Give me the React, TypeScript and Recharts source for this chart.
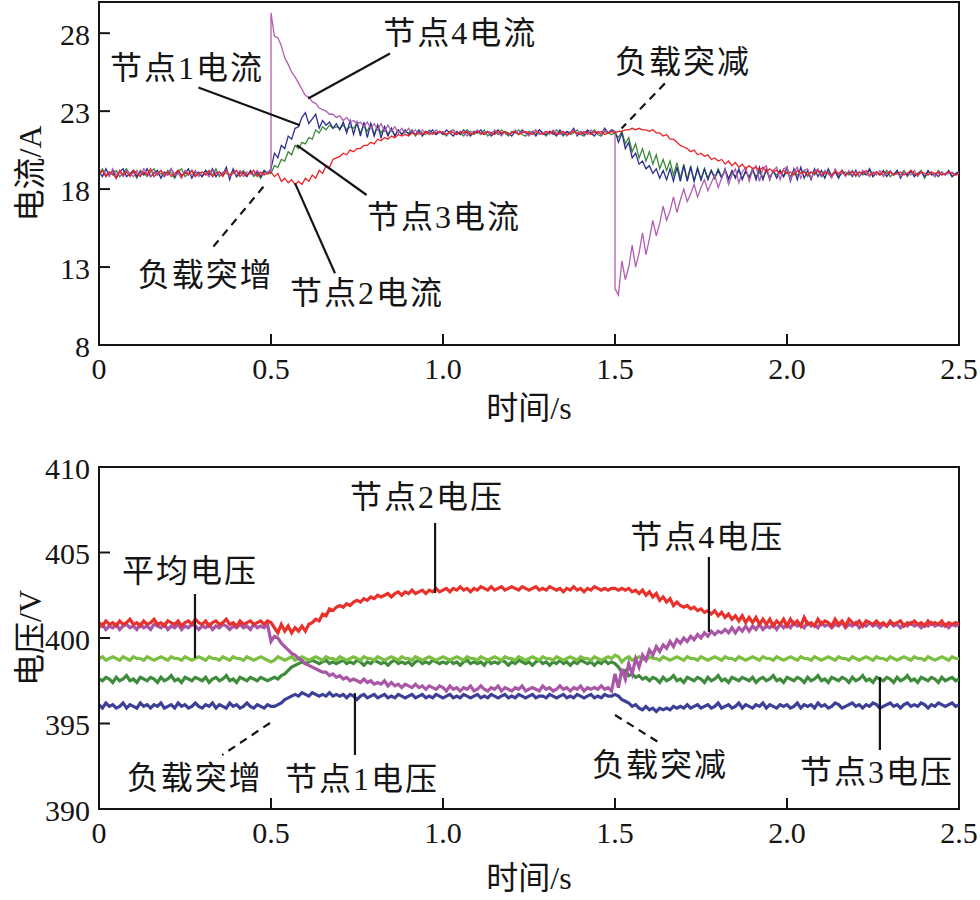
import React from 'react';
import { LineChart, Line, XAxis, YAxis, ReferenceLine, ReferenceDot, ReferenceArea } from 'recharts';

// ---------- time grid ----------
const T_STEP = 0.01;
const POINTS = 251;
const times = Array.from({ length: POINTS }, (_, i) => Math.round(i * T_STEP * 100) / 100);

const xTicks = [0, 0.5, 1, 1.5, 2, 2.5];
const xTickLabels = ['0', '0.5', '1.0', '1.5', '2.0', '2.5'];
const currentTicks = [8, 13, 18, 23, 28];
const voltageTicks = [390, 395, 400, 405, 410];

// ---------- top panel: node currents (A) ----------
const node1Current = [
  19.1, 18.8, 19.3, 18.9, 19.2, 18.7, 19.1, 19.3, 18.8, 19.0,
  19.2, 18.8, 19.1, 18.9, 19.3, 18.8, 19.0, 19.2, 18.7, 19.1,
  18.9, 19.3, 18.8, 19.2, 18.9, 19.0, 19.3, 18.7, 19.1, 19.0,
  18.8, 19.2, 18.9, 19.3, 18.8, 19.1, 18.9, 19.4, 18.6, 19.3,
  18.8, 19.1, 19.0, 18.8, 19.2, 18.9, 19.1, 18.8, 19.2, 19.0,
  19.3, 20.3, 20.0, 20.8, 20.6, 21.4, 21.2, 21.9, 22.0, 22.6,
  22.9, 22.2, 22.5, 22.8, 21.9, 22.4, 22.1, 22.3, 21.9, 22.2,
  21.8, 22.3, 21.6, 22.4, 21.5, 22.3, 21.4, 22.3, 21.3, 22.2,
  21.4, 22.1, 21.3, 22.0, 21.4, 21.9, 21.4, 21.8, 21.5, 21.8,
  21.5, 21.7, 21.5, 21.8, 21.4, 21.7, 21.6, 21.8, 21.5, 21.7,
  21.5, 21.8, 21.6, 21.4, 21.7, 21.5, 21.8, 21.6, 21.4, 21.7,
  21.6, 21.8, 21.5, 21.7, 21.4, 21.6, 21.8, 21.5, 21.7, 21.6,
  21.4, 21.7, 21.5, 21.8, 21.6, 21.5, 21.7, 21.4, 21.8, 21.6,
  21.5, 21.7, 21.6, 21.4, 21.8, 21.5, 21.7, 21.6, 21.9, 21.4,
  21.7, 21.5, 21.8, 21.6, 21.4, 21.7, 21.5, 21.9, 21.6, 21.8,
  21.7, 21.0, 21.6, 20.6, 21.0, 20.0, 20.3, 19.6, 19.8, 19.3,
  19.5, 19.0, 19.3, 18.7, 19.2, 18.6, 19.3, 18.5, 19.4, 18.5,
  19.5, 18.5, 19.4, 18.5, 19.3, 18.6, 19.3, 18.6, 19.2, 18.7,
  19.2, 18.7, 19.3, 18.6, 19.2, 18.7, 19.3, 18.6, 19.2, 18.7,
  19.3, 18.6, 19.4, 18.6, 19.3, 18.6, 19.2, 18.7, 19.2, 18.8,
  19.4, 18.5, 19.3, 18.6, 19.4, 18.7, 19.2, 18.6, 19.3, 18.8,
  19.2, 18.7, 19.3, 18.8, 19.1, 18.7, 19.2, 18.9, 19.1, 18.8,
  19.2, 18.8, 19.1, 18.9, 19.3, 18.8, 19.1, 18.9, 19.2, 18.8,
  19.1, 18.9, 19.2, 18.7, 19.1, 18.9, 19.2, 18.8, 19.0, 19.1,
  18.8, 19.2, 18.9, 19.0, 18.8, 19.1, 18.9, 19.2, 18.8, 19.0,
  19.1,
];

const node2Current = [
  18.9, 19.2, 18.8, 19.1, 19.0, 18.7, 19.2, 18.9, 19.1, 18.8,
  19.2, 19.0, 18.8, 19.1, 18.9, 19.3, 18.8, 19.0, 19.2, 18.9,
  19.1, 18.8, 19.0, 19.2, 18.8, 19.1, 18.9, 19.2, 18.8, 19.0,
  19.1, 18.9, 19.2, 18.8, 19.0, 19.1, 18.8, 19.2, 18.9, 19.0,
  19.2, 18.8, 19.1, 18.9, 19.0, 19.2, 18.8, 19.1, 18.9, 19.0,
  19.1, 18.8, 19.0, 18.5, 18.7, 18.4, 18.6, 18.3, 18.5, 18.3,
  18.7, 18.5, 18.9, 18.7, 19.2, 19.0, 19.5, 19.4, 19.9, 20.0,
  20.1, 20.3, 20.2, 20.5, 20.4, 20.6, 20.6, 20.8, 20.8, 21.0,
  20.9, 21.2, 21.1, 21.3, 21.2, 21.4, 21.3, 21.5, 21.4, 21.5,
  21.4, 21.6, 21.5, 21.6, 21.5, 21.7, 21.5, 21.6, 21.6, 21.7,
  21.6, 21.5, 21.7, 21.6, 21.5, 21.7, 21.6, 21.7, 21.5, 21.6,
  21.7, 21.6, 21.5, 21.7, 21.6, 21.5, 21.7, 21.6, 21.7, 21.5,
  21.6, 21.7, 21.5, 21.6, 21.7, 21.6, 21.5, 21.7, 21.6, 21.5,
  21.7, 21.6, 21.7, 21.5, 21.6, 21.7, 21.5, 21.6, 21.7, 21.6,
  21.5, 21.7, 21.6, 21.5, 21.7, 21.6, 21.7, 21.5, 21.6, 21.7,
  21.6, 21.7, 21.7, 21.8, 21.8, 21.9, 21.8, 21.9, 21.8, 21.8,
  21.7, 21.8, 21.6, 21.6, 21.4, 21.5, 21.2, 21.2, 21.0, 20.8,
  20.7, 20.6, 20.4, 20.5, 20.2, 20.3, 20.1, 20.2, 19.9, 20.0,
  19.8, 19.9, 19.6, 19.8, 19.5, 19.7, 19.4, 19.6, 19.3, 19.5,
  19.3, 19.4, 19.2, 19.4, 19.1, 19.3, 19.1, 19.2, 19.0, 19.2,
  19.0, 19.1, 18.9, 19.2, 19.0, 19.1, 18.9, 19.1, 19.0, 19.2,
  18.9, 19.1, 19.0, 18.9, 19.1, 19.0, 19.2, 18.9, 19.0, 19.1,
  18.9, 19.1, 19.0, 19.2, 18.9, 19.0, 19.1, 18.9, 19.1, 19.0,
  19.1, 18.9, 19.0, 19.1, 18.9, 19.0, 19.2, 19.0, 18.9, 19.1,
  19.0, 18.9, 19.1, 19.0, 19.1, 18.9, 19.0, 19.1, 19.0, 18.9,
  19.0,
];

const node3Current = [
  19.0, 19.3, 18.8, 19.1, 18.9, 19.2, 18.8, 19.0, 19.3, 18.9,
  19.1, 18.7, 19.2, 19.0, 18.8, 19.1, 19.3, 18.9, 19.0, 18.8,
  19.2, 19.0, 18.7, 19.1, 19.3, 18.8, 19.0, 19.2, 18.9, 19.1,
  18.8, 19.2, 19.0, 18.9, 19.3, 18.8, 19.1, 19.0, 18.9, 19.2,
  18.8, 19.0, 19.2, 18.9, 19.1, 18.8, 19.0, 18.7, 19.1, 19.0,
  19.0, 19.5, 19.4, 19.9, 19.8, 20.4, 20.2, 20.8, 20.6, 21.0,
  20.9, 21.3, 21.2, 21.8, 21.6, 22.0, 21.8, 22.1, 21.9, 22.0,
  21.9, 22.1, 21.8, 22.0, 21.9, 22.2, 21.6, 22.1, 21.7, 22.2,
  21.5, 22.1, 21.6, 22.0, 21.5, 21.9, 21.4, 21.8, 21.5, 21.7,
  21.6, 21.8, 21.4, 21.7, 21.6, 21.5, 21.8, 21.6, 21.5, 21.7,
  21.6, 21.4, 21.7, 21.8, 21.5, 21.6, 21.4, 21.8, 21.6, 21.5,
  21.7, 21.5, 21.8, 21.4, 21.6, 21.7, 21.5, 21.8, 21.6, 21.4,
  21.7, 21.6, 21.8, 21.5, 21.4, 21.7, 21.6, 21.5, 21.8, 21.6,
  21.4, 21.7, 21.5, 21.8, 21.6, 21.4, 21.7, 21.5, 21.6, 21.8,
  21.5, 21.4, 21.7, 21.6, 21.8, 21.5, 21.4, 21.7, 21.6, 21.5,
  21.6, 21.3, 21.7, 20.9, 21.3, 20.4, 20.9, 20.0, 20.6, 19.8,
  20.4, 19.6, 20.2, 19.3, 19.9, 19.2, 19.8, 18.9, 19.7, 18.7,
  19.6, 18.6, 19.5, 18.5, 19.4, 18.6, 19.3, 18.7, 19.2, 18.7,
  19.3, 18.8, 19.2, 18.7, 19.1, 18.8, 19.2, 18.7, 19.1, 18.8,
  19.2, 18.8, 19.1, 18.7, 19.2, 18.8, 19.1, 18.9, 19.2, 18.8,
  19.1, 18.8, 19.2, 18.9, 19.0, 19.2, 18.8, 19.1, 18.9, 19.2,
  18.8, 19.0, 19.1, 18.9, 19.2, 18.8, 19.0, 19.1, 18.9, 19.2,
  18.8, 19.1, 18.9, 19.0, 19.2, 18.8, 19.1, 19.0, 18.9, 19.2,
  18.8, 19.0, 19.1, 18.9, 19.2, 18.8, 19.1, 18.9, 19.0, 19.2,
  18.7, 19.1, 19.0, 18.8, 19.2, 18.9, 19.0, 19.1, 18.8, 19.0,
  19.1,
];

const node4Current = [
  18.9, 19.2, 19.0, 18.8, 19.3, 18.9, 19.1, 18.8, 19.2, 19.0,
  18.8, 19.2, 18.9, 19.3, 19.0, 18.8, 19.1, 18.9, 19.2, 18.8,
  19.0, 19.3, 18.9, 19.0, 18.7, 19.2, 19.0, 18.9, 19.2, 18.8,
  19.1, 19.0, 18.8, 19.2, 19.1, 18.9, 19.0, 19.2, 18.8, 19.1,
  18.9, 19.2, 18.8, 19.1, 19.0, 18.9, 19.2, 18.9, 19.0, 19.1,
  29.3, 27.8, 27.7, 27.2, 26.4, 26.0, 25.5, 25.2, 24.8, 24.4,
  24.0, 23.9, 23.6, 23.5, 23.2, 23.1, 23.0, 22.8, 22.8, 22.6,
  22.7, 22.4, 22.6, 22.3, 22.4, 22.2, 22.3, 22.0, 22.3, 21.9,
  22.2, 21.8, 22.2, 21.7, 22.1, 21.7, 22.0, 21.6, 21.9, 21.6,
  21.9, 21.6, 21.8, 21.5, 21.8, 21.6, 21.7, 21.5, 21.8, 21.6,
  21.7, 21.5, 21.6, 21.8, 21.5, 21.7, 21.6, 21.4, 21.7, 21.6,
  21.8, 21.5, 21.6, 21.7, 21.5, 21.8, 21.6, 21.4, 21.7, 21.5,
  21.6, 21.8, 21.5, 21.7, 21.6, 21.4, 21.7, 21.8, 21.5, 21.6,
  21.7, 21.5, 21.8, 21.6, 21.5, 21.7, 21.4, 21.6, 21.8, 21.5,
  21.7, 21.6, 21.5, 21.8, 21.6, 21.7, 21.5, 21.8, 21.6, 21.7,
  11.6, 11.2, 13.4, 12.2, 13.0, 14.4, 13.0, 13.9, 15.2, 13.8,
  14.8, 16.0, 15.0, 15.8, 16.9, 16.0, 16.6, 17.5, 16.5, 17.3,
  18.0, 17.2, 17.7, 18.3, 17.5, 18.1, 18.6, 17.9, 18.4, 18.9,
  18.1, 18.7, 19.2, 18.3, 18.9, 19.3, 18.4, 19.1, 19.4, 18.5,
  19.2, 19.5, 18.5, 19.3, 19.5, 18.6, 19.2, 19.4, 18.6, 19.3,
  19.4, 18.6, 19.1, 19.4, 18.7, 19.2, 19.3, 18.7, 19.1, 19.3,
  18.8, 19.2, 19.0, 18.7, 19.3, 18.9, 19.1, 18.8, 19.2, 18.9,
  19.1, 18.8, 19.2, 19.0, 18.8, 19.1, 18.9, 19.2, 18.8, 19.0,
  19.2, 18.9, 19.0, 18.8, 19.1, 19.0, 18.9, 19.2, 18.8, 19.1,
  19.0, 18.9, 19.1, 18.8, 19.0, 19.1, 18.9, 19.0, 19.1, 18.9,
  19.0,
];

// node 4 current jumps vertically at the load steps: value just before the jump
const node4Jumps = [
  { t: 0.5, from: 19.1 },
  { t: 1.5, from: 21.7 },
];

// ---------- bottom panel: node voltages (V) ----------
const node1Voltage = [
  396.1, 395.9, 396.2, 396.0, 396.1, 395.9, 396.0, 396.2, 395.9, 396.1,
  396.0, 395.9, 396.2, 396.0, 396.1, 395.9, 396.1, 396.0, 396.2, 395.9,
  396.0, 396.1, 395.9, 396.2, 396.0, 396.1, 395.9, 396.0, 396.2, 396.0,
  395.9, 396.1, 396.0, 396.2, 395.9, 396.1, 396.0, 395.9, 396.2, 396.0,
  396.1, 395.9, 396.0, 396.2, 396.0, 395.9, 396.1, 396.0, 395.9, 396.1,
  396.0, 396.0, 396.1, 396.2, 396.4, 396.5, 396.6, 396.7, 396.6, 396.8,
  396.7, 396.6, 396.8, 396.7, 396.6, 396.7, 396.6, 396.8, 396.6, 396.7,
  396.6, 396.7, 396.5, 396.7, 396.6, 396.4, 396.6, 396.7, 396.5, 396.6,
  396.7, 396.5, 396.6, 396.7, 396.5, 396.6, 396.5, 396.7, 396.6, 396.5,
  396.6, 396.7, 396.5, 396.6, 396.7, 396.5, 396.6, 396.5, 396.7, 396.6,
  396.5, 396.6, 396.7, 396.5, 396.6, 396.5, 396.7, 396.6, 396.5, 396.6,
  396.7, 396.5, 396.6, 396.5, 396.7, 396.6, 396.5, 396.6, 396.7, 396.5,
  396.6, 396.5, 396.7, 396.6, 396.5, 396.6, 396.7, 396.5, 396.6, 396.6,
  396.5, 396.7, 396.6, 396.5, 396.6, 396.7, 396.5, 396.6, 396.5, 396.7,
  396.6, 396.5, 396.6, 396.7, 396.5, 396.6, 396.5, 396.7, 396.6, 396.6,
  396.7, 396.6, 396.4, 396.3, 396.2, 396.0, 396.1, 395.9, 395.8, 396.0,
  395.8, 395.9, 395.7, 395.9, 395.8, 395.9, 395.8, 396.0, 395.9, 396.0,
  395.9, 396.1, 395.9, 396.0, 396.1, 395.9, 396.0, 396.1, 395.9, 396.0,
  396.2, 395.9, 396.0, 396.1, 395.9, 396.0, 396.2, 395.9, 396.1, 396.0,
  395.9, 396.1, 396.0, 396.2, 395.9, 396.1, 396.0, 395.9, 396.1, 396.0,
  396.1, 395.9, 396.0, 396.2, 395.9, 396.1, 396.0, 396.1, 395.9, 396.2,
  396.0, 396.1, 395.9, 396.0, 396.2, 396.1, 395.9, 396.0, 396.1, 396.2,
  396.0, 396.1, 395.9, 396.1, 396.0, 396.2, 396.1, 395.9, 396.0, 396.1,
  396.2, 396.0, 396.1, 395.9, 396.1, 396.2, 396.0, 396.1, 396.0, 396.2,
  396.1, 395.9, 396.1, 396.0, 396.2, 396.1, 396.0, 396.1, 396.2, 396.0,
  396.1,
];

const node2Voltage = [
  400.9, 400.7, 401.0, 400.8, 400.9, 400.7, 401.0, 400.8, 400.9, 401.1,
  400.8, 400.9, 400.7, 401.0, 400.8, 400.9, 401.1, 400.8, 400.9, 400.7,
  401.0, 400.9, 400.8, 401.0, 400.7, 400.9, 401.0, 400.8, 401.1, 400.9,
  400.8, 401.0, 400.7, 400.9, 401.0, 400.8, 400.9, 401.1, 400.8, 400.9,
  400.7, 401.0, 400.8, 400.9, 401.0, 400.8, 400.9, 401.0, 400.8, 401.0,
  400.9, 400.6, 400.3, 400.8, 400.4, 400.7, 400.3, 400.6, 400.4, 400.7,
  400.4, 400.8, 400.9, 401.1, 401.0, 401.4, 401.3, 401.7, 401.6, 401.8,
  401.9, 401.8, 402.0, 401.9, 402.1, 402.2, 402.1, 402.3, 402.2, 402.4,
  402.3, 402.5, 402.4, 402.5, 402.6, 402.4, 402.6, 402.7, 402.5, 402.7,
  402.6, 402.8, 402.6, 402.7, 402.8, 402.6, 402.8, 402.7, 402.9, 402.7,
  402.8, 402.9, 402.7, 402.9, 402.8, 403.0, 402.8, 402.9, 402.7, 402.9,
  402.8, 403.0, 402.9, 402.8, 403.0, 402.8, 402.9, 403.0, 402.8, 402.9,
  403.0, 402.9, 402.8, 403.0, 402.9, 402.8, 402.9, 403.0, 402.8, 402.9,
  402.8, 403.0, 402.9, 402.8, 402.9, 402.7, 402.9, 402.8, 403.0, 402.8,
  402.9, 402.7, 402.9, 402.8, 403.0, 402.9, 402.8, 402.9, 402.8, 402.9,
  402.9, 402.8, 402.9, 402.8, 402.9, 402.7, 402.8, 402.6, 402.8, 402.5,
  402.7, 402.4, 402.6, 402.2, 402.4, 402.1, 402.3, 401.9, 402.1, 401.9,
  401.8, 401.9, 401.7, 401.8, 401.6, 401.7, 401.5, 401.6, 401.4, 401.6,
  401.3, 401.5, 401.2, 401.4, 401.1, 401.3, 401.0, 401.3, 400.9, 401.2,
  400.9, 401.2, 400.8, 401.1, 400.8, 401.1, 400.7, 401.0, 400.8, 401.1,
  400.7, 401.1, 400.8, 401.0, 400.7, 401.2, 400.8, 400.9, 400.7, 401.1,
  400.8, 401.0, 400.9, 400.7, 401.1, 400.8, 401.0, 400.7, 401.1, 400.9,
  400.8, 401.0, 400.7, 401.0, 400.9, 400.8, 401.0, 400.8, 400.9, 400.7,
  401.0, 400.8, 400.9, 401.0, 400.7, 400.9, 400.8, 401.0, 400.8, 400.9,
  400.7, 401.0, 400.8, 400.9, 400.8, 401.0, 400.7, 400.9, 400.8, 400.9,
  400.8,
];

const node3Voltage = [
  397.6, 397.5, 397.7, 397.6, 397.4, 397.7, 397.5, 397.6, 397.8, 397.5,
  397.6, 397.4, 397.7, 397.6, 397.5, 397.7, 397.6, 397.4, 397.7, 397.5,
  397.6, 397.8, 397.5, 397.6, 397.4, 397.7, 397.6, 397.5, 397.7, 397.6,
  397.5, 397.7, 397.4, 397.6, 397.7, 397.5, 397.6, 397.8, 397.5, 397.6,
  397.4, 397.7, 397.6, 397.5, 397.7, 397.6, 397.5, 397.7, 397.6, 397.5,
  397.6, 397.7, 397.6, 397.8, 397.9, 398.1, 398.3, 398.4, 398.5, 398.6,
  398.5, 398.6, 398.7, 398.6, 398.5, 398.6, 398.7, 398.5, 398.6, 398.5,
  398.6, 398.7, 398.5, 398.6, 398.5, 398.7, 398.6, 398.4, 398.6, 398.5,
  398.7, 398.6, 398.5, 398.6, 398.4, 398.6, 398.7, 398.5, 398.6, 398.5,
  398.6, 398.4, 398.6, 398.7, 398.5, 398.6, 398.5, 398.7, 398.6, 398.5,
  398.6, 398.5, 398.7, 398.5, 398.6, 398.4, 398.6, 398.7, 398.5, 398.6,
  398.5, 398.6, 398.4, 398.7, 398.5, 398.6, 398.5, 398.7, 398.6, 398.4,
  398.6, 398.5, 398.7, 398.6, 398.5, 398.6, 398.4, 398.6, 398.7, 398.5,
  398.6, 398.4, 398.6, 398.5, 398.7, 398.5, 398.6, 398.4, 398.6, 398.5,
  398.7, 398.6, 398.5, 398.6, 398.4, 398.6, 398.5, 398.7, 398.5, 398.6,
  398.5, 398.3, 398.0, 398.1, 397.8, 397.9, 397.7, 397.8, 397.6, 397.7,
  397.5, 397.7, 397.6, 397.4, 397.7, 397.5, 397.6, 397.8, 397.5, 397.6,
  397.4, 397.7, 397.6, 397.5, 397.7, 397.6, 397.4, 397.7, 397.5, 397.6,
  397.8, 397.5, 397.6, 397.4, 397.7, 397.6, 397.5, 397.7, 397.6, 397.5,
  397.7, 397.4, 397.6, 397.7, 397.5, 397.6, 397.8, 397.5, 397.6, 397.4,
  397.7, 397.6, 397.5, 397.7, 397.6, 397.4, 397.7, 397.5, 397.6, 397.8,
  397.5, 397.6, 397.4, 397.7, 397.6, 397.5, 397.7, 397.6, 397.4, 397.7,
  397.5, 397.6, 397.8, 397.5, 397.6, 397.4, 397.7, 397.6, 397.5, 397.7,
  397.6, 397.4, 397.7, 397.5, 397.6, 397.8, 397.5, 397.6, 397.4, 397.7,
  397.6, 397.5, 397.7, 397.6, 397.4, 397.7, 397.5, 397.6, 397.7, 397.5,
  397.6,
];

const node4Voltage = [
  400.6, 400.8, 400.5, 400.7, 400.6, 400.8, 400.5, 400.7, 400.8, 400.6,
  400.7, 400.5, 400.8, 400.6, 400.7, 400.5, 400.8, 400.7, 400.6, 400.8,
  400.5, 400.7, 400.6, 400.8, 400.5, 400.7, 400.6, 400.8, 400.7, 400.5,
  400.7, 400.6, 400.8, 400.5, 400.7, 400.6, 400.8, 400.7, 400.5, 400.7,
  400.6, 400.8, 400.6, 400.7, 400.5, 400.8, 400.6, 400.7, 400.6, 400.8,
  399.8, 400.1, 400.0, 399.7, 399.5, 399.3, 399.1, 399.0, 398.8, 398.7,
  398.5, 398.4, 398.3, 398.2, 398.1, 398.0, 398.0, 397.8, 397.9, 397.7,
  397.8, 397.6, 397.7, 397.5, 397.6, 397.5, 397.4, 397.6, 397.4, 397.5,
  397.3, 397.4, 397.3, 397.5, 397.2, 397.4, 397.2, 397.3, 397.1, 397.3,
  397.2, 397.1, 397.3, 397.1, 397.2, 397.0, 397.2, 397.1, 397.0, 397.2,
  397.1, 396.9, 397.2, 397.0, 397.1, 396.9, 397.1, 397.0, 397.2, 396.9,
  397.0, 397.2, 397.0, 396.9, 397.1, 397.0, 397.2, 396.9, 397.1, 397.0,
  396.9, 397.1, 397.0, 397.2, 396.9, 397.0, 397.1, 397.0, 396.9, 397.2,
  397.0, 397.1, 396.9, 397.0, 397.2, 397.0, 397.1, 396.9, 397.1, 397.0,
  397.2, 396.9, 397.1, 397.0, 397.1, 397.0, 397.2, 397.0, 397.1, 396.9,
  397.9, 397.1, 398.2, 397.6, 398.5, 397.9, 398.8, 398.3, 399.0, 398.7,
  399.3, 399.0, 399.5, 399.2, 399.6, 399.4, 399.8, 399.5, 399.9, 399.7,
  400.0, 399.8, 400.1, 399.9, 400.2, 400.0, 400.3, 400.1, 400.4, 400.2,
  400.4, 400.3, 400.5, 400.3, 400.6, 400.3, 400.6, 400.4, 400.7, 400.4,
  400.7, 400.5, 400.8, 400.5, 400.7, 400.6, 400.8, 400.5, 400.8, 400.6,
  400.8, 400.6, 400.9, 400.7, 400.8, 400.6, 400.9, 400.7, 400.8, 400.6,
  400.9, 400.7, 400.8, 400.6, 400.8, 400.7, 400.9, 400.6, 400.8, 400.7,
  400.9, 400.6, 400.8, 400.7, 400.9, 400.7, 400.8, 400.6, 400.8, 400.7,
  400.9, 400.7, 400.8, 400.6, 400.8, 400.7, 400.9, 400.7, 400.8, 400.6,
  400.8, 400.7, 400.9, 400.7, 400.8, 400.7, 400.8, 400.6, 400.8, 400.7,
  400.8,
];

const averageVoltage = [
  398.8, 398.9, 398.7, 398.8, 398.9, 398.8, 398.7, 398.9, 398.8, 398.7,
  398.9, 398.8, 398.8, 398.7, 398.9, 398.8, 398.7, 398.8, 398.9, 398.8,
  398.7, 398.9, 398.8, 398.8, 398.7, 398.9, 398.8, 398.7, 398.8, 398.9,
  398.8, 398.7, 398.9, 398.8, 398.8, 398.7, 398.9, 398.8, 398.7, 398.9,
  398.8, 398.8, 398.7, 398.9, 398.8, 398.7, 398.8, 398.9, 398.8, 398.7,
  398.6, 398.7, 398.9, 398.8, 398.7, 398.8, 398.9, 398.7, 398.8, 398.9,
  398.8, 398.7, 398.8, 398.9, 398.8, 398.7, 398.9, 398.8, 398.8, 398.7,
  398.9, 398.8, 398.7, 398.8, 398.9, 398.8, 398.7, 398.9, 398.8, 398.8,
  398.7, 398.9, 398.8, 398.7, 398.8, 398.9, 398.8, 398.7, 398.9, 398.8,
  398.8, 398.7, 398.9, 398.8, 398.7, 398.8, 398.9, 398.8, 398.7, 398.8,
  398.9, 398.8, 398.7, 398.8, 398.9, 398.8, 398.7, 398.9, 398.8, 398.8,
  398.7, 398.9, 398.8, 398.7, 398.8, 398.9, 398.8, 398.7, 398.9, 398.8,
  398.8, 398.7, 398.9, 398.8, 398.7, 398.8, 398.9, 398.8, 398.7, 398.9,
  398.8, 398.8, 398.7, 398.9, 398.8, 398.7, 398.8, 398.9, 398.8, 398.7,
  398.9, 398.8, 398.8, 398.7, 398.9, 398.8, 398.7, 398.8, 398.9, 398.8,
  399.0, 398.9, 398.6, 398.8, 398.9, 398.7, 398.8, 398.9, 398.8, 398.7,
  398.9, 398.8, 398.8, 398.7, 398.9, 398.8, 398.7, 398.8, 398.9, 398.8,
  398.7, 398.9, 398.8, 398.8, 398.7, 398.9, 398.8, 398.7, 398.8, 398.9,
  398.8, 398.7, 398.9, 398.8, 398.8, 398.7, 398.9, 398.8, 398.7, 398.8,
  398.9, 398.8, 398.7, 398.9, 398.8, 398.8, 398.7, 398.9, 398.8, 398.7,
  398.8, 398.9, 398.8, 398.7, 398.9, 398.8, 398.8, 398.7, 398.9, 398.8,
  398.7, 398.8, 398.9, 398.8, 398.7, 398.9, 398.8, 398.8, 398.7, 398.9,
  398.8, 398.7, 398.8, 398.9, 398.8, 398.7, 398.9, 398.8, 398.8, 398.7,
  398.9, 398.8, 398.7, 398.8, 398.9, 398.8, 398.7, 398.9, 398.8, 398.8,
  398.7, 398.9, 398.8, 398.7, 398.8, 398.9, 398.8, 398.7, 398.9, 398.8,
  398.8,
];

// ---------- annotations (data coordinates) ----------
const currentNotes = [
  { text: '节点4电流', t: 0.826, v: 28.0 },
  { text: '节点1电流', t: 0.032, v: 25.76 },
  { text: '节点3电流', t: 0.779, v: 16.2 },
  { text: '负载突增', t: 0.113, v: 12.49 },
  { text: '节点2电流', t: 0.555, v: 11.33 },
  { text: '负载突减', t: 1.5, v: 26.14 },
];
const currentLeaders = [
  { a: [0.608, 23.81], b: [0.846, 26.7], dashed: false },
  { a: [0.289, 24.52], b: [0.584, 22.1], dashed: false },
  { a: [0.575, 20.82], b: [0.778, 17.62], dashed: false },
  { a: [0.57, 18.37], b: [0.686, 12.6], dashed: false },
  { a: [0.478, 18.15], b: [0.332, 14.3], dashed: true },
  { a: [1.645, 24.78], b: [1.519, 21.89], dashed: true },
];
const voltageNotes = [
  { text: '节点2电压', t: 0.73, v: 408.25 },
  { text: '平均电压', t: 0.067, v: 403.92 },
  { text: '负载突增', t: 0.081, v: 391.81 },
  { text: '节点1电压', t: 0.541, v: 391.75 },
  { text: '节点4电压', t: 1.544, v: 405.91 },
  { text: '负载突减', t: 1.433, v: 392.57 },
  { text: '节点3电压', t: 2.038, v: 392.16 },
];
const voltageLeaders = [
  { a: [0.977, 406.73], b: [0.977, 402.63], dashed: false },
  { a: [0.279, 402.57], b: [0.279, 398.83], dashed: false },
  { a: [0.497, 395.03], b: [0.358, 393.16], dashed: true },
  { a: [0.744, 396.78], b: [0.744, 393.16], dashed: false },
  { a: [1.773, 404.74], b: [1.773, 400.35], dashed: false },
  { a: [1.5, 395.5], b: [1.625, 393.92], dashed: true },
  { a: [2.27, 397.72], b: [2.27, 393.45], dashed: false },
];

// ---------- build chart rows ----------
const currentRows: any[] = [];
times.forEach((t, i) => {
  const base = { t, i1: node1Current[i], i2: node2Current[i], i3: node3Current[i] };
  const jump = node4Jumps.find((j) => j.t === t);
  if (jump) currentRows.push({ ...base, i4: jump.from });
  currentRows.push({ ...base, i4: node4Current[i] });
});

const voltageRows = times.map((t, i) => ({
  t,
  v1: node1Voltage[i],
  v2: node2Voltage[i],
  v3: node3Voltage[i],
  v4: node4Voltage[i],
  va: averageVoltage[i],
}));

// ---------- styling ----------
const INK = '#151515';
const FONT_NUM = "'Liberation Serif', Tinos, 'Times New Roman', 'DejaVu Serif', serif";
const FONT_TXT = "'Liberation Serif', Tinos, 'Times New Roman', 'Noto Sans CJK SC', serif";
const numStyle: React.CSSProperties = { fontFamily: FONT_NUM, fontSize: 30 };
const txtStyle: React.CSSProperties = { fontFamily: FONT_TXT, fontSize: 32 };

const XTick = (props: any) => {
  const { x, y, payload } = props;
  const idx = xTicks.indexOf(payload.value);
  return (
    <g>
      <line x1={x} y1={y} x2={x} y2={y - 11} stroke={INK} strokeWidth={2} />
      <text x={x} y={y + 23} textAnchor="middle" dominantBaseline="central" style={numStyle} fill={INK}>
        {idx >= 0 ? xTickLabels[idx] : String(payload.value)}
      </text>
    </g>
  );
};

const YTick = (props: any) => {
  const { x, y, payload } = props;
  return (
    <g>
      <line x1={x} y1={y} x2={x + 11} y2={y} stroke={INK} strokeWidth={2} />
      <text x={x - 9} y={y + 1} textAnchor="end" dominantBaseline="central" style={numStyle} fill={INK}>
        {payload.value}
      </text>
    </g>
  );
};

const xTitle = (dy: number) => (props: any) => {
  const vb = props.viewBox || {};
  return (
    <text x={vb.x + vb.width / 2} y={vb.y + dy} textAnchor="middle" dominantBaseline="central" style={txtStyle} fill={INK}>
      时间/s
    </text>
  );
};

const yTitle = (text: string) => (props: any) => {
  const vb = props.viewBox || {};
  const cx = vb.x + 21;
  const cy = vb.y + vb.height / 2;
  return (
    <text x={cx} y={cy} transform={`rotate(-90 ${cx} ${cy})`} textAnchor="middle" dominantBaseline="central" style={txtStyle} fill={INK}>
      {text}
    </text>
  );
};

const noteShape = (text: string) => (p: any) => (
  <text x={p.cx} y={p.cy} textAnchor="start" dominantBaseline="central" style={{ ...txtStyle, letterSpacing: 2 }} fill={INK}>
    {text}
  </text>
);

const renderLeaders = (list: any[], prefix: string) =>
  list.map((l, k) => (
    <ReferenceLine
      key={`${prefix}-${k}`}
      segment={[{ x: l.a[0], y: l.a[1] }, { x: l.b[0], y: l.b[1] }]}
      stroke={INK}
      strokeWidth={2.2}
      strokeDasharray={l.dashed ? '8 6' : undefined}
    />
  ));

const renderNotes = (list: any[], prefix: string) =>
  list.map((n, k) => (
    <ReferenceDot key={`${prefix}-${k}`} x={n.t} y={n.v} r={0} shape={noteShape(n.text)} />
  ));

export default function App() {
  return (
    <div style={{ position: 'absolute', left: 0, top: 0, width: 980, height: 900, background: '#fff' }}>
      <div style={{ position: 'absolute', left: 0, top: 0 }}>
        <LineChart width={980} height={440} data={currentRows} margin={{ top: 2, right: 21, left: 9, bottom: 35 }}>
          <XAxis
            dataKey="t"
            type="number"
            domain={[0, 2.5]}
            ticks={xTicks}
            interval={0}
            tickSize={0}
            tickMargin={0}
            tickLine={false}
            tick={<XTick />}
            height={60}
            axisLine={{ stroke: INK, strokeWidth: 2 }}
            label={xTitle(63)}
            allowDataOverflow
          />
          <YAxis
            type="number"
            domain={[8, 30]}
            ticks={currentTicks}
            interval={0}
            tickSize={0}
            tickMargin={0}
            tickLine={false}
            tick={<YTick />}
            width={90}
            axisLine={{ stroke: INK, strokeWidth: 2 }}
            label={yTitle('电流/A')}
            allowDataOverflow
          />
          <ReferenceArea x1={0} x2={2.5} y1={8} y2={30} fill="none" fillOpacity={0} stroke={INK} strokeWidth={2} />
          <Line dataKey="i3" stroke="#3c8a3a" strokeWidth={1.3} dot={false} activeDot={false} isAnimationActive={false} />
          <Line dataKey="i1" stroke="#2b2f8e" strokeWidth={1.3} dot={false} activeDot={false} isAnimationActive={false} />
          <Line dataKey="i4" stroke="#b25db2" strokeWidth={1.3} dot={false} activeDot={false} isAnimationActive={false} />
          <Line dataKey="i2" stroke="#ec2227" strokeWidth={1.3} dot={false} activeDot={false} isAnimationActive={false} />
          {renderLeaders(currentLeaders, 'cl')}
          {renderNotes(currentNotes, 'cn')}
        </LineChart>
      </div>
      <div style={{ position: 'absolute', left: 0, top: 440 }}>
        <LineChart width={980} height={460} data={voltageRows} margin={{ top: 27, right: 21, left: 9, bottom: 31 }}>
          <XAxis
            dataKey="t"
            type="number"
            domain={[0, 2.5]}
            ticks={xTicks}
            interval={0}
            tickSize={0}
            tickMargin={0}
            tickLine={false}
            tick={<XTick />}
            height={60}
            axisLine={{ stroke: INK, strokeWidth: 2 }}
            label={xTitle(69)}
            allowDataOverflow
          />
          <YAxis
            type="number"
            domain={[390, 410]}
            ticks={voltageTicks}
            interval={0}
            tickSize={0}
            tickMargin={0}
            tickLine={false}
            tick={<YTick />}
            width={90}
            axisLine={{ stroke: INK, strokeWidth: 2 }}
            label={yTitle('电压/V')}
            allowDataOverflow
          />
          <ReferenceArea x1={0} x2={2.5} y1={390} y2={410} fill="none" fillOpacity={0} stroke={INK} strokeWidth={2} />
          <Line dataKey="v1" stroke="#3b3f98" strokeWidth={3.2} dot={false} activeDot={false} isAnimationActive={false} />
          <Line dataKey="v3" stroke="#3e8b3c" strokeWidth={3.2} dot={false} activeDot={false} isAnimationActive={false} />
          <Line dataKey="va" stroke="#7cc043" strokeWidth={3.2} dot={false} activeDot={false} isAnimationActive={false} />
          <Line dataKey="v4" stroke="#a956a6" strokeWidth={3.2} dot={false} activeDot={false} isAnimationActive={false} />
          <Line dataKey="v2" stroke="#e8312b" strokeWidth={3.2} dot={false} activeDot={false} isAnimationActive={false} />
          {renderLeaders(voltageLeaders, 'vl')}
          {renderNotes(voltageNotes, 'vn')}
        </LineChart>
      </div>
    </div>
  );
}
